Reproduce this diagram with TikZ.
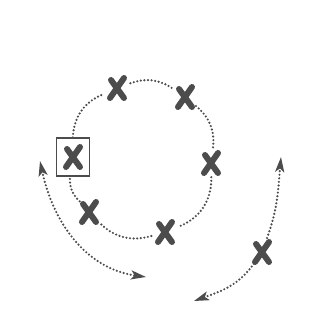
\documentclass[tikz,border=0pt]{standalone}
\usetikzlibrary{arrows.meta}

\definecolor{ink}{gray}{0.3}

\begin{document}
\begin{tikzpicture}[x=1bp,y=1bp,
  >={Stealth[length=15bp,width=9bp,inset=3.5bp]},
  spot/.style={circle,minimum size=28bp,inner sep=0pt},
  boxed/.style={draw=ink,line width=1.1bp,minimum width=33bp,minimum height=38bp,inner sep=0pt},
  dots/.style={ink,line width=2.4bp,line cap=round,dash pattern=on 0bp off 3.6bp},
  stroke/.style={ink,line width=6bp,line cap=round}]

  \useasboundingbox (0,0) rectangle (328,321);

  % marks on the ring
  \node[spot] (x1) at (117,233) {};
  \node[spot] (x2) at (185,224) {};
  \node[spot] (x3) at (211,158) {};
  \node[boxed] (x4) at (73,164) {};
  \node[spot] (x5) at (89,109) {};
  \node[spot] (x6) at (165,89) {};
  % mark on the outer path
  \node[spot] (x7) at (262,69) {};

  % free ends of the outer paths
  \coordinate (la) at (40,160);
  \coordinate (lb) at (146,44);
  \coordinate (ra) at (281,164);
  \coordinate (rb) at (194,20);

  % the crosses
  \foreach \n in {x1,x2,x3,x4,x5,x6,x7} {
    \draw[stroke] ([shift={(7bp,10bp)}]\n.center) -- ([shift={(-7bp,-10bp)}]\n.center);
    \draw[stroke] ([shift={(-6bp,8bp)}]\n.center) -- ([shift={(7bp,-10bp)}]\n.center);
  }

  % dotted ring
  \draw[dots] (x1) to[bend left=27] (x2);
  \draw[dots] (x2) to[bend left=29] (x3);
  \draw[dots] (x3) to[bend left=35] (x6);
  \draw[dots] (x6) to[bend left=31] (x5);
  \draw[dots] (x5) to[bend left=25] (x4);
  \draw[dots] (x4) to[bend left=33] (x1);

  % outer paths
  \draw[dots,<->] (la) to[out=-78,in=172] (lb);
  \draw[dots,<-] (ra) to[out=-95,in=70] (x7);
  \draw[dots,->] (x7) to[out=-125,in=20] (rb);

\end{tikzpicture}
\end{document}
